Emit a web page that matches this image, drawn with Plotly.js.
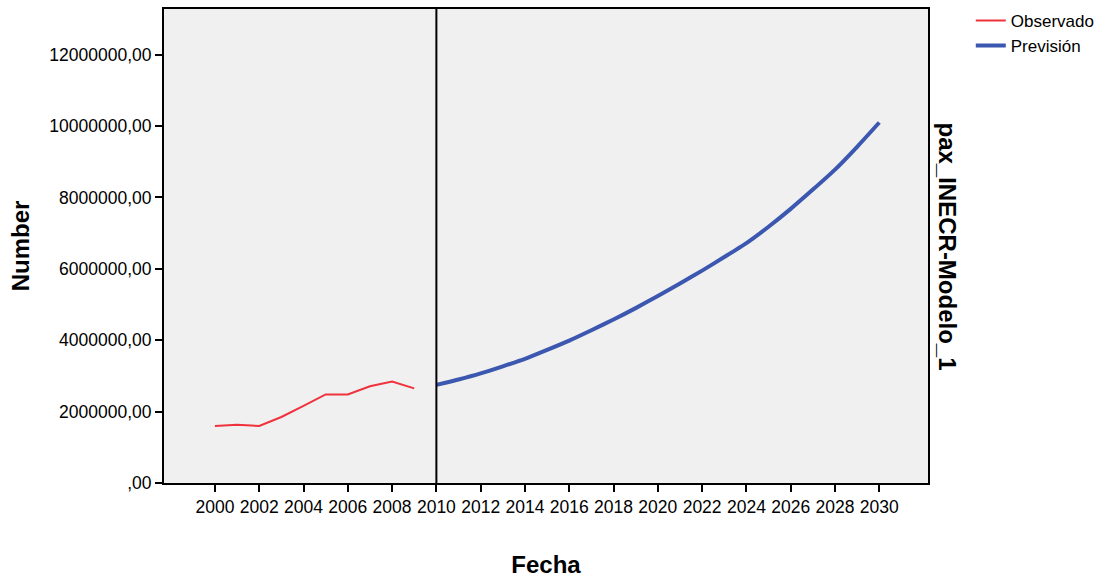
<!DOCTYPE html>
<html>
<head>
<meta charset="utf-8">
<script src="https://cdn.plot.ly/plotly-3.0.1.min.js"></script>
<style>
html,body{margin:0;padding:0;background:#ffffff;}
#chart{width:1110px;height:579px;}
</style>
</head>
<body>
<div id="chart"></div>
<script>
// Observed series
const obsYears = [2000, 2001, 2002, 2003, 2004, 2005, 2006, 2007, 2008, 2009];
const obsValues = [1600000, 1630000, 1600000, 1850000, 2160000, 2480000, 2480000, 2710000, 2840000, 2650000];

// Forecast series
const fcYears = [2010, 2011, 2012, 2013, 2014, 2015, 2016, 2017, 2018, 2019, 2020,
                 2021, 2022, 2023, 2024, 2025, 2026, 2027, 2028, 2029, 2030];
const fcValues = [2750000, 2900000, 3070000, 3270000, 3480000, 3730000, 3990000, 4280000, 4580000, 4900000, 5240000,
                  5590000, 5950000, 6330000, 6720000, 7180000, 7680000, 8220000, 8780000, 9420000, 10100000];

// Axis ticks
const xTickVals = [2000, 2002, 2004, 2006, 2008, 2010, 2012, 2014, 2016, 2018, 2020, 2022, 2024, 2026, 2028, 2030];
const xTickText = xTickVals.map(String);
const yTickVals = [0, 2000000, 4000000, 6000000, 8000000, 10000000, 12000000];
const yTickText = [",00", "2000000,00", "4000000,00", "6000000,00", "8000000,00", "10000000,00", "12000000,00"];

const forecastStart = 2010;

const FONT = "Liberation Sans, Arial, sans-serif";

const traces = [
  {
    x: obsYears, y: obsValues, type: "scatter", mode: "lines", name: "Observado",
    line: {color: "#f0323c", width: 2}
  },
  {
    x: fcYears, y: fcValues, type: "scatter", mode: "lines", name: "Previsión",
    line: {color: "#3b57b0", width: 4, shape: "spline", smoothing: 0.6}
  }
];

const layout = {
  width: 1110, height: 579,
  margin: {l: 164, r: 182, t: 9, b: 96, autoexpand: false},
  paper_bgcolor: "#ffffff",
  plot_bgcolor: "#f0f0f0",
  font: {family: FONT, size: 17, color: "#000000"},
  showlegend: true,
  legend: {
    x: 1.056, xanchor: "left", y: 1.013, yanchor: "top",
    font: {family: FONT, size: 17, color: "#000000"},
    bgcolor: "rgba(0,0,0,0)", tracegroupgap: 0, itemwidth: 30
  },
  xaxis: {
    range: [1997.7, 2032.2],
    tickmode: "array", tickvals: xTickVals, ticktext: xTickText,
    ticks: "outside", ticklen: 7, tickwidth: 2, tickcolor: "#000000",
    showgrid: false, zeroline: false,
    showline: true, linecolor: "#000000", linewidth: 2, mirror: true,
    tickfont: {family: FONT, size: 17.5, color: "#000000"},
    title: {text: "Fecha", font: {family: FONT, size: 24, color: "#000000", weight: "bold"}, standoff: 40}
  },
  yaxis: {
    range: [0, 13280000],
    tickmode: "array", tickvals: yTickVals, ticktext: yTickText,
    ticks: "outside", ticklen: 7, tickwidth: 2, tickcolor: "#000000",
    showgrid: false, zeroline: false,
    showline: true, linecolor: "#000000", linewidth: 2, mirror: true,
    tickfont: {family: FONT, size: 17.5, color: "#000000"},
    title: {text: "Number", font: {family: FONT, size: 24, color: "#000000", weight: "bold"}, standoff: 13}
  },
  shapes: [
    {type: "line", xref: "x", yref: "paper", x0: forecastStart, x1: forecastStart, y0: 0, y1: 1,
     line: {color: "#000000", width: 2}}
  ],
  annotations: [
    {text: "pax_INECR-Modelo_1", xref: "paper", yref: "paper", x: 1.0, y: 0.5,
     xanchor: "left", yanchor: "middle", xshift: 4, textangle: 90, showarrow: false,
     font: {family: FONT, size: 24, color: "#000000", weight: "bold"}}
  ]
};

Plotly.newPlot("chart", traces, layout, {displayModeBar: false, staticPlot: true});
</script>
</body>
</html>
